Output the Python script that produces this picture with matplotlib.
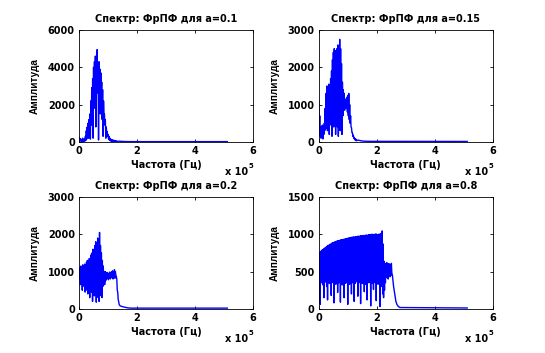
import numpy as np
import matplotlib
matplotlib.use('Agg')
import matplotlib.pyplot as plt

# figure settings
FIG_SIZE = (5.45, 3.53)
DPI = 100
BLUE = (0, 0, 1)
FS = 7

plt.rcParams['font.family'] = ['DejaVu Sans']
plt.rcParams['font.weight'] = 'bold'

# ---- data, frequency in units of 1e5 Hz ----
# a = 0.1 : alternating peak / dip values of the dense part (0 .. 1.3)
hi1 = [250, 180, 150, 120, 200, 130, 150, 300, 600, 800,
       1000, 1200, 1500, 2200, 2900, 3400, 4000, 4300, 4600, 4500,
       4950, 4200, 4300, 3900, 3700, 3200, 2800, 2200, 1500, 1200,
       800, 550, 400, 300, 200, 150, 120, 100, 90, 80, 70, 60]
lo1 = [100, 50, 40, 30, 60, 20, 40, 80, 150, 300,
       200, 600, 150, 900, 1300, 200, 1800, 2200, 800, 2600,
       3000, 100, 2800, 1500, 2500, 1200, 300, 1400, 900, 200,
       500, 300, 150, 100, 60, 40, 30, 30, 20, 20, 15, 15]
tail1_f = [1.35, 1.45, 1.6, 1.8, 2.2, 5.12]
tail1_a = [40, 30, 20, 15, 15, 15]

# a = 0.15
hi2 = [1100, 700, 400, 420, 450, 380, 500, 900, 1300, 1500,
       1450, 1550, 1500, 1700, 1900, 2200, 2400, 2500, 2450, 2400,
       2500, 2600, 2450, 2750, 2500, 2100, 1600, 1400, 1300, 1150,
       1100, 1200, 1250, 1300, 1000, 700, 380, 250, 180, 120, 90, 70]
lo2 = [300, 150, 100, 250, 80, 200, 300, 350, 450, 300,
       500, 200, 600, 450, 150, 550, 400, 650, 200, 500,
       400, 150, 550, 300, 450, 200, 700, 900, 850, 950,
       900, 800, 700, 600, 500, 400, 250, 150, 100, 60, 40, 30]
tail2_f = [1.35, 1.45, 1.55, 1.8, 5.12]
tail2_a = [50, 30, 20, 15, 12]

# a = 0.2
hi3 = [1000, 1100, 1150, 1050, 1180, 1100, 1200, 1150, 1250, 1300,
       1250, 1350, 1300, 1450, 1500, 1600, 1550, 1700, 1800, 1750,
       1900, 1850, 2050, 1700, 1500, 1300, 1150, 1000, 1000, 950,
       980, 960, 950, 990, 970, 1000, 1020, 980, 1050, 1000,
       870, 500, 250, 120]
lo3 = [800, 650, 700, 500, 750, 600, 450, 650, 500, 400,
       550, 300, 500, 450, 200, 400, 350, 500, 180, 400,
       300, 200, 350, 450, 300, 600, 700, 650, 750, 800,
       820, 780, 850, 800, 830, 850, 800, 850, 820, 900,
       800, 450, 200, 100]
tail3_f = [1.42, 1.5, 1.6, 1.7, 1.8, 5.12]
tail3_a = [80, 60, 40, 25, 20, 20]

# a = 0.8
hi4 = [750, 760, 770, 785, 790, 800, 810, 820, 830, 840,
       850, 855, 865, 870, 880, 885, 890, 895, 900, 905,
       910, 915, 912, 920, 925, 928, 930, 932, 935, 938,
       940, 945, 950, 948, 955, 958, 960, 962, 965, 960,
       968, 970, 972, 975, 970, 978, 980, 975, 982, 985,
       980, 988, 990, 985, 992, 995, 990, 998, 1000, 995,
       1000, 990, 1005, 1000, 995, 1000, 990, 1010, 1000, 1045,
       870, 640, 610, 600, 620, 590, 605, 600, 595, 610]
lo4 = [380, 60, 350, 400, 320, 150, 380, 360, 300, 120,
       370, 340, 390, 180, 360, 350, 80, 380, 330, 400,
       220, 350, 370, 90, 360, 320, 390, 150, 340, 380,
       350, 60, 370, 330, 400, 200, 350, 380, 100, 340,
       360, 390, 170, 350, 370, 70, 380, 340, 360, 230,
       330, 380, 120, 360, 350, 390, 40, 370, 340, 260,
       380, 350, 110, 360, 330, 390, 30, 350, 300, 200,
       150, 250, 350, 420, 450, 400, 460, 430, 450, 480]
tail4_f = [2.54, 2.58, 2.62, 2.66, 2.7, 2.75, 2.8, 5.12]
tail4_a = [450, 300, 200, 100, 55, 30, 18, 12]

titles = ['Спектр: ФрПФ для a=0.1', 'Спектр: ФрПФ для a=0.15',
          'Спектр: ФрПФ для a=0.2', 'Спектр: ФрПФ для a=0.8']
ymax = [6000, 3000, 3000, 1500]
yticks = [[0, 2000, 4000, 6000], [0, 1000, 2000, 3000],
          [0, 1000, 2000, 3000], [0, 500, 1000, 1500]]
dense_end = [1.3, 1.3, 1.4, 2.52]
series = [(hi1, lo1, tail1_f, tail1_a), (hi2, lo2, tail2_f, tail2_a),
          (hi3, lo3, tail3_f, tail3_a), (hi4, lo4, tail4_f, tail4_a)]

# axes boxes (MATLAB subplot layout)
boxes = [[0.145, 0.598, 0.319, 0.317], [0.585, 0.598, 0.319, 0.317],
         [0.145, 0.125, 0.319, 0.317], [0.585, 0.125, 0.319, 0.317]]

fig = plt.figure(figsize=FIG_SIZE, dpi=DPI)

for k in range(4):
    hi, lo, tf, ta = series[k]
    amp = np.empty(2 * len(hi))
    amp[0::2] = hi
    amp[1::2] = lo
    freq = np.linspace(0, dense_end[k], len(amp))
    freq = np.concatenate([freq, tf])
    amp = np.concatenate([amp, ta])

    ax = fig.add_axes(boxes[k])
    ax.plot(freq, amp, color=BLUE, linewidth=1.0)
    ax.set_xlim(0, 6)
    ax.set_ylim(0, ymax[k])
    ax.set_xticks([0, 2, 4, 6])
    ax.set_yticks(yticks[k])
    ax.tick_params(direction='in', top=True, right=True, length=2.5,
                   width=0.6, labelsize=FS, pad=3)
    for s in ax.spines.values():
        s.set_linewidth(0.6)
    ax.set_title(titles[k], fontsize=FS, fontweight='bold', pad=6)
    ax.set_xlabel('Частота (Гц)', fontsize=FS, fontweight='bold', labelpad=3)
    ax.set_ylabel('Амплитуда', fontsize=7.2, fontweight='bold', labelpad=6,
                  family='Liberation Sans')
    ax.text(0.972, -0.27, 'x 10', transform=ax.transAxes, fontsize=FS,
            fontweight='bold', ha='right', va='center')
    ax.text(0.976, -0.215, '5', transform=ax.transAxes, fontsize=5,
            fontweight='bold', ha='left', va='center')

fig.savefig('out.png', dpi=DPI)
